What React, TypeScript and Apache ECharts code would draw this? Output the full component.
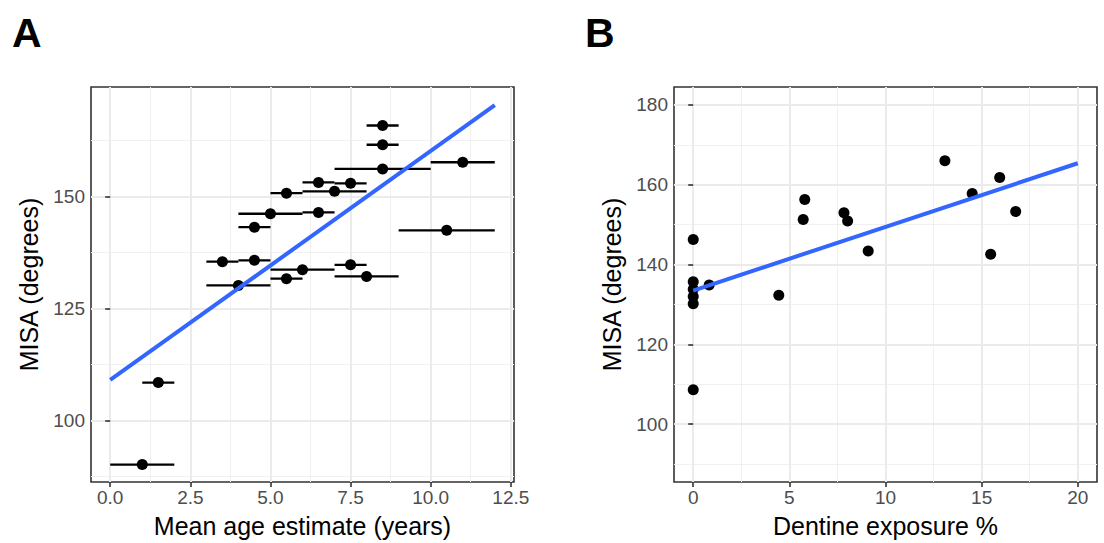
import React, { useEffect, useRef } from "react";
import * as echarts from "echarts";

// ---------- Panel A data ----------
const A_MEAN_AGE = [8.5, 8.5, 8.5, 11, 6.5, 7.5, 5.5, 7, 5, 6.5, 4.5, 10.5, 3.5, 4.5, 6, 7.5, 5.5, 8, 4, 1.5, 1];
const A_AGE_MIN = [8, 8, 7, 10, 6, 7, 5, 6, 4, 6, 4, 9, 3, 4, 5, 7, 5, 7, 3, 1, 0];
const A_AGE_MAX = [9, 9, 10, 12, 7, 8, 6, 8, 6, 7, 5, 12, 4, 5, 7, 8, 6, 9, 5, 2, 2];
const A_MISA = [165.9, 161.6, 156.2, 157.7, 153.2, 153.0, 150.8, 151.2, 146.2, 146.5, 143.2, 142.5, 135.5, 135.8, 133.7, 134.8, 131.7, 132.2, 130.2, 108.5, 90.2];
const A_FIT_RANGE = [0, 12];
const A_X_TICKS = [0, 2.5, 5, 7.5, 10, 12.5];
const A_X_MINOR = [1.25, 3.75, 6.25, 8.75, 11.25];
const A_Y_TICKS = [100, 125, 150];
const A_Y_MINOR = [87.5, 112.5, 137.5, 162.5];

// ---------- Panel B data ----------
const B_DENTINE = [0, 0, 0, 0, 0, 0.83, 0, 4.45, 5.72, 5.8, 7.84, 8.03, 9.1, 13.09, 14.51, 15.47, 15.94, 16.77];
const B_MISA = [146.3, 135.7, 133.8, 132.0, 130.2, 134.9, 108.6, 132.3, 151.3, 156.3, 153.0, 150.9, 143.4, 166.0, 157.8, 142.6, 161.8, 153.3];
const B_FIT_RANGE = [0, 20];
const B_X_TICKS = [0, 5, 10, 15, 20];
const B_X_MINOR = [2.5, 7.5, 12.5, 17.5];
const B_Y_TICKS = [100, 120, 140, 160, 180];
const B_Y_MINOR = [90, 110, 130, 150, 170];

const FONT = "'Liberation Sans', Arial, Helvetica, sans-serif";

function linFit(xs: number[], ys: number[]) {
  const n = xs.length;
  const mx = xs.reduce((a, b) => a + b, 0) / n;
  const my = ys.reduce((a, b) => a + b, 0) / n;
  let sxy = 0, sxx = 0;
  for (let i = 0; i < n; i++) {
    sxy += (xs[i] - mx) * (ys[i] - my);
    sxx += (xs[i] - mx) * (xs[i] - mx);
  }
  const slope = sxy / sxx;
  return { slope, intercept: my - slope * mx };
}

function gridLines(xMajor: number[], xMinor: number[], yMajor: number[], yMinor: number[]) {
  const maj = { color: "#ebebeb", width: 2, type: "solid" as const };
  const min = { color: "#f0f0f0", width: 1, type: "solid" as const };
  return [
    ...xMinor.map((v) => ({ xAxis: v, lineStyle: min })),
    ...yMinor.map((v) => ({ yAxis: v, lineStyle: min })),
    ...xMajor.map((v) => ({ xAxis: v, lineStyle: maj })),
    ...yMajor.map((v) => ({ yAxis: v, lineStyle: maj })),
  ];
}

export default function App() {
  const ref = useRef<HTMLDivElement>(null);
  useEffect(() => {
    if (!ref.current) return;
    const chart = echarts.init(ref.current, null, { renderer: "svg" });
    const fa = linFit(A_MEAN_AGE, A_MISA);
    const fb = linFit(B_DENTINE, B_MISA);

    const gA = { left: 91, top: 87, width: 423, height: 396 };
    const gB = { left: 674, top: 87, width: 423, height: 396 };

    const axisLabel = { color: "#4d4d4d", fontSize: 19, fontFamily: FONT, margin: 6 };
    const axisTick = { show: true, length: 5, lineStyle: { color: "#333333", width: 1.6 } };
    const nameStyle = { color: "#000", fontSize: 25, fontFamily: FONT };

    const option: any = {
      animation: false,
      backgroundColor: "#ffffff",
      grid: [
        { ...gA, show: true, borderColor: "#333333", borderWidth: 1.6, backgroundColor: "transparent", containLabel: false },
        { ...gB, show: true, borderColor: "#333333", borderWidth: 1.6, backgroundColor: "transparent", containLabel: false },
      ],
      xAxis: [
        {
          type: "value", gridIndex: 0, min: -0.6, max: 12.6,
          splitLine: { show: false }, axisLine: { show: false },
          axisTick: { ...axisTick, customValues: A_X_TICKS },
          axisLabel: { ...axisLabel, customValues: A_X_TICKS, formatter: (v: number) => v.toFixed(1) },
          name: "Mean age estimate (years)", nameLocation: "middle", nameGap: 31, nameTextStyle: nameStyle,
        },
        {
          type: "value", gridIndex: 1, min: -1, max: 21,
          splitLine: { show: false }, axisLine: { show: false },
          axisTick: { ...axisTick, customValues: B_X_TICKS },
          axisLabel: { ...axisLabel, customValues: B_X_TICKS, formatter: (v: number) => String(v) },
          name: "Dentine exposure %", nameLocation: "middle", nameGap: 31, nameTextStyle: nameStyle,
        },
      ],
      yAxis: [
        {
          type: "value", gridIndex: 0, min: 86.3, max: 174.5,
          splitLine: { show: false }, axisLine: { show: false },
          axisTick: { ...axisTick, customValues: A_Y_TICKS },
          axisLabel: { ...axisLabel, customValues: A_Y_TICKS, formatter: (v: number) => String(v) },
          name: "MISA (degrees)", nameLocation: "middle", nameGap: 50, nameTextStyle: nameStyle,
        },
        {
          type: "value", gridIndex: 1, min: 85.5, max: 184.5,
          splitLine: { show: false }, axisLine: { show: false },
          axisTick: { ...axisTick, customValues: B_Y_TICKS },
          axisLabel: { ...axisLabel, customValues: B_Y_TICKS, formatter: (v: number) => String(v) },
          name: "MISA (degrees)", nameLocation: "middle", nameGap: 50, nameTextStyle: nameStyle,
        },
      ],
      graphic: [
        { type: "text", left: 12, top: 12, style: { text: "A", fontSize: 41, fontWeight: "bold", fill: "#000", fontFamily: FONT } },
        { type: "text", left: 585, top: 12, style: { text: "B", fontSize: 41, fontWeight: "bold", fill: "#000", fontFamily: FONT } },
      ],
      series: [
        {
          type: "line", xAxisIndex: 0, yAxisIndex: 0, data: [], z: 0, silent: true,
          markLine: { z: 0, silent: true, symbol: ["none", "none"], label: { show: false }, data: gridLines(A_X_TICKS, A_X_MINOR, A_Y_TICKS, A_Y_MINOR) },
        },
        {
          type: "line", xAxisIndex: 1, yAxisIndex: 1, data: [], z: 0, silent: true,
          markLine: { z: 0, silent: true, symbol: ["none", "none"], label: { show: false }, data: gridLines(B_X_TICKS, B_X_MINOR, B_Y_TICKS, B_Y_MINOR) },
        },
        {
          type: "custom", xAxisIndex: 0, yAxisIndex: 0, z: 3, silent: true,
          data: A_AGE_MIN.map((v, i) => [v, A_AGE_MAX[i], A_MISA[i]]),
          encode: { x: [0, 1], y: 2 },
          renderItem: (params: any, api: any) => {
            const y = api.value(2);
            const p1 = api.coord([api.value(0), y]);
            const p2 = api.coord([api.value(1), y]);
            return { type: "line", shape: { x1: p1[0], y1: p1[1], x2: p2[0], y2: p2[1] }, style: { stroke: "#000", lineWidth: 2.3 } };
          },
        },
        {
          type: "scatter", xAxisIndex: 0, yAxisIndex: 0, z: 4, symbol: "circle", symbolSize: 11,
          itemStyle: { color: "#000", opacity: 1 },
          data: A_MEAN_AGE.map((x, i) => [x, A_MISA[i]]),
        },
        {
          type: "scatter", xAxisIndex: 1, yAxisIndex: 1, z: 4, symbol: "circle", symbolSize: 11,
          itemStyle: { color: "#000", opacity: 1 },
          data: B_DENTINE.map((x, i) => [x, B_MISA[i]]),
        },
        {
          type: "line", xAxisIndex: 0, yAxisIndex: 0, z: 5, showSymbol: false, symbol: "none",
          lineStyle: { color: "#3366FF", width: 4 },
          data: A_FIT_RANGE.map((x) => [x, fa.intercept + fa.slope * x]),
        },
        {
          type: "line", xAxisIndex: 1, yAxisIndex: 1, z: 5, showSymbol: false, symbol: "none",
          lineStyle: { color: "#3366FF", width: 4 },
          data: B_FIT_RANGE.map((x) => [x, fb.intercept + fb.slope * x]),
        },
      ],
    };
    chart.setOption(option);
    return () => chart.dispose();
  }, []);
  return <div ref={ref} style={{ position: "fixed", left: 0, top: 0, width: 1104, height: 543 }} />;
}
